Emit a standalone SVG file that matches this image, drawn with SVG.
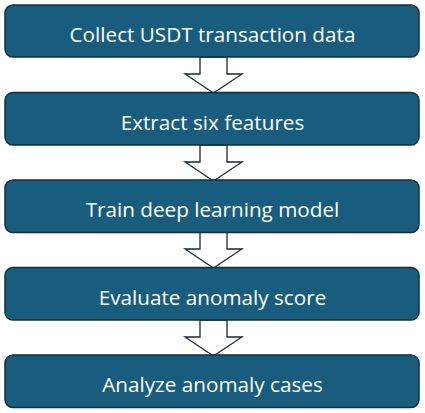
<svg xmlns="http://www.w3.org/2000/svg" width="425" height="413" viewBox="0 0 425 413">
<style>
.box{fill:#185d7e;stroke:#0e2f40;stroke-width:1.5}
.lbl{fill:#ffffff;font-family:"Open Sans","Noto Sans",sans-serif;font-size:20.7px;text-anchor:middle}
.arr{fill:#ffffff;stroke:#1a2a33;stroke-width:1.3;stroke-linejoin:miter}
</style>
<g id="connectors">
<path class="arr" d="M200,57 V74 H185 L213.5,93 L242,74 H227 V57 Z"/>
<path class="arr" d="M200,145 V162 H185 L213.5,181 L242,162 H227 V145 Z"/>
<path class="arr" d="M200,232 V249 H185 L213.5,268 L242,249 H227 V232 Z"/>
<path class="arr" d="M200,320 V337 H185 L213.5,356 L242,337 H227 V320 Z"/>
</g>
<g id="n1"><rect class="box" x="5" y="5" width="414" height="52" rx="8"/><text class="lbl" x="212.5" y="41.5">Collect USDT transaction data</text></g>
<g id="n2"><rect class="box" x="5" y="92.5" width="414" height="52.5" rx="8"/><text class="lbl" x="212.5" y="129.5">Extract six features</text></g>
<g id="n3"><rect class="box" x="5" y="180" width="414" height="52.5" rx="8"/><text class="lbl" x="212.5" y="216.5">Train deep learning model</text></g>
<g id="n4"><rect class="box" x="5" y="267.5" width="414" height="52.5" rx="8"/><text class="lbl" x="212.5" y="304.5">Evaluate anomaly score</text></g>
<g id="n5"><rect class="box" x="5" y="355" width="414" height="52.5" rx="8"/><text class="lbl" x="212.5" y="391.5">Analyze anomaly cases</text></g>
</svg>
